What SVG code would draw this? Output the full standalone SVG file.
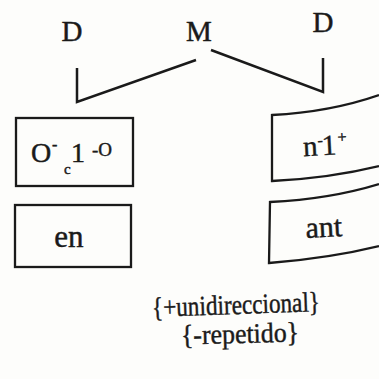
<svg xmlns="http://www.w3.org/2000/svg" width="379" height="379" viewBox="0 0 379 379">
<style>
.t{font-family:"Liberation Serif","DejaVu Serif",serif;fill:#1a1a1a;stroke:#1a1a1a;stroke-width:0.45}
.ln{fill:none;stroke:#1a1a1a;stroke-width:2.5;stroke-linejoin:miter}
.bx{fill:none;stroke:#1a1a1a;stroke-width:2.3}
</style>
<rect width="379" height="379" fill="#fdfdfb"/>
<g id="labels">
<text class="t" x="72" y="41" font-size="29" text-anchor="middle">D</text>
<text class="t" x="199" y="41" font-size="29" text-anchor="middle">M</text>
<text class="t" x="323" y="32" font-size="29" text-anchor="middle">D</text>
</g>
<g id="connectors">
<path class="ln" d="M77,68 L77,102 L196,60"/>
<path class="ln" d="M211,50 L323,92 L323,58"/>
</g>
<g id="box-o1o">
<rect class="bx" x="16" y="118" width="117" height="68"/>
<text class="t" y="162" font-size="28"><tspan x="31">O</tspan><tspan x="52" y="150" font-size="16">-</tspan><tspan x="64" y="174" font-size="15">c</tspan><tspan x="71" y="162">1</tspan><tspan x="92" y="156" font-size="19">-O</tspan></text>
</g>
<g id="box-en">
<rect class="bx" x="15" y="205" width="116" height="62"/>
<text class="t" x="69" y="247" font-size="31" text-anchor="middle">en</text>
</g>
<g id="box-n1">
<path class="bx" d="M379,95 Q330,112 272,115 L272,181 Q330,178 379,166"/>
<text class="t" y="155" font-size="29" transform="rotate(-3 327 148)"><tspan x="303">n</tspan><tspan x="318" y="145" font-size="16">-</tspan><tspan x="322" y="155">1</tspan><tspan x="338" y="143" font-size="16">+</tspan></text>
</g>
<g id="box-ant">
<path class="bx" d="M379,184 Q330,199 270,202 L269,263 Q330,258 379,246"/>
<text class="t" x="324" y="237" font-size="30" text-anchor="middle" transform="rotate(-3 323 230)">ant</text>
</g>
<g id="features">
<text class="t" x="236" y="314" font-size="28" text-anchor="middle" textLength="168" lengthAdjust="spacingAndGlyphs" transform="rotate(-2 236 306)">{+unidireccional}</text>
<text class="t" x="240" y="343" font-size="28" text-anchor="middle" textLength="118" lengthAdjust="spacingAndGlyphs" transform="rotate(-1.5 240 335)">{-repetido}</text>
</g>
</svg>
